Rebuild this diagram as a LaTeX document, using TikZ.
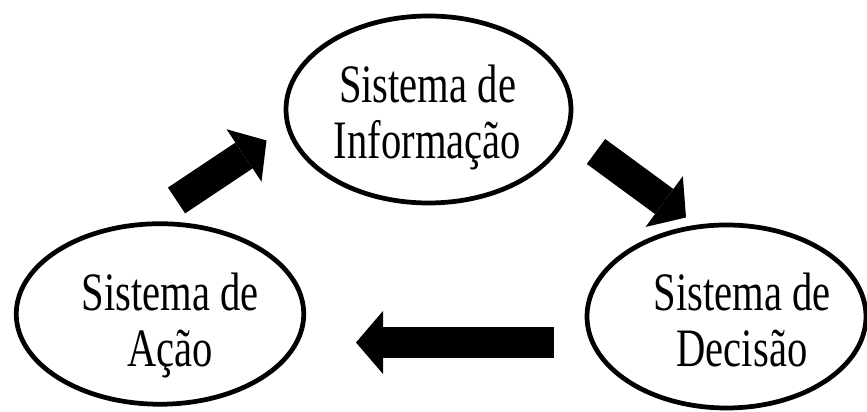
\documentclass[tikz,border=0pt]{standalone}
\usepackage{fontspec}
\setmainfont{Liberation Serif}[FakeStretch=0.75]
\usetikzlibrary{shapes}
\usetikzlibrary{positioning}
\usetikzlibrary{arrows.meta}
\tikzset{
    sistema/.style = {ellipse, line width=2.7pt, draw=black, inner sep=0pt},
    rotulo/.style = {align=center, inner sep=0pt, font=\fontsize{30.8}{32.2}\selectfont},
    seta/.style = {line width=0.62cm, -{Triangle[length=0.54cm,width=1.26cm,line width'=0pt]}}
}

\begin{document}
\begin{tikzpicture}
  \useasboundingbox (0,0) rectangle (17.34,8.24);

  \node[sistema, minimum width=5.70cm, minimum height=3.74cm] at (8.57,6.05) (info) {};
  \node[sistema, minimum width=5.75cm, minimum height=3.61cm] at (3.20,1.96) (acao) {};
  \node[sistema, minimum width=5.58cm, minimum height=3.66cm] at (14.53,1.91) (decisao) {};

  \node[rotulo] at ([shift={(-0.02,-0.16)}]info.center) (tinfo) {Sistema de\\Informação};
  \node[rotulo] at ([shift={(0.20,-0.23)}]acao.center) (tacao) {Sistema de\\Ação};
  \node[rotulo] at ([shift={(0.31,-0.07)}]decisao.center) (tdecisao) {Sistema de\\Decisão};

  % ciclo
  \coordinate (ac1) at (3.53,4.23);
  \coordinate (ac2) at (5.33,5.43);
  \coordinate (in1) at (11.92,5.21);
  \coordinate (in2) at (13.72,3.89);
  \coordinate (de1) at (11.07,1.39);
  \coordinate (de2) at (7.12,1.39);

  \draw[seta] (ac1) -- (ac2);
  \draw[seta] (in1) -- (in2);
  \draw[seta] (de1) -- (de2);

\end{tikzpicture}
\end{document}
